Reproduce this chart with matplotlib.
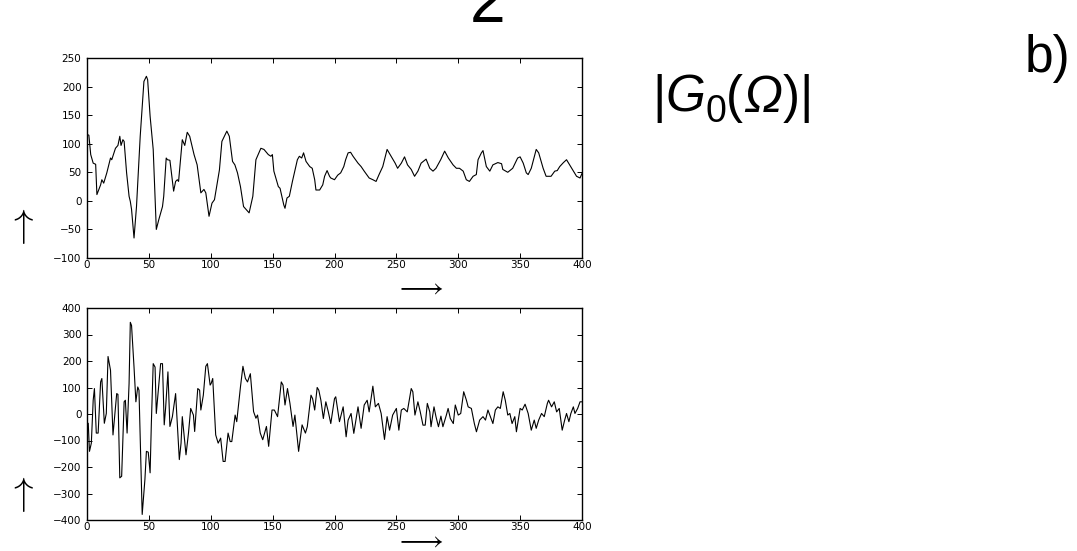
import matplotlib
matplotlib.use("Agg")
import matplotlib.pyplot as plt
import numpy as np

# ---- data (turning points) ----
top_x = [0, 1.5, 3, 5, 7, 8, 11, 12, 13.5, 16, 19, 20, 23, 25, 26.5, 27.5, 29, 30, 32, 34, 35, 36, 38,
         40, 43, 46, 48, 49, 51, 53.5, 56, 58, 61, 62, 64, 65, 67, 70, 71.6, 73, 74, 77, 79, 81, 83,
         86.5, 89, 92, 94.5, 96, 98.6, 101, 103, 107, 109, 113, 115, 117.6, 119.5, 121.6, 124, 126.5,
         131, 134, 136.5, 140.5, 143, 146.5, 148.6, 149.8, 151, 154.6, 156, 159, 160, 161.6, 163.5,
         166, 170, 171.6, 173.5, 175, 177, 180, 182, 184, 185, 188, 190.5, 192, 194, 196, 197, 200,
         202.6, 205, 207.5, 209, 211, 213, 215, 216, 219, 221.5, 224, 228, 231, 233.6, 236, 239,
         242.5, 245.8, 249, 251, 254, 256.6, 259, 262, 264.7, 267.4, 270, 274, 277, 279.6, 282,
         285.8, 289, 292, 295.8, 298.5, 301, 304, 306.5, 309, 312, 314.6, 316, 318.7, 320, 322.7,
         325.5, 328, 332, 335, 336, 340, 344, 348, 350, 352.5, 355, 356.5, 359, 363, 365, 368.6,
         371, 375, 378, 380, 382, 385, 387.5, 390, 393, 395.6, 398.4, 400]
top_y = [116, 115, 81, 66, 64, 11, 28, 37, 31, 49, 75, 72, 92, 97, 113, 97, 107, 104, 49, 8, -1, -15, -65,
         -10, 113, 209, 218, 212, 148, 90, -50, -33, -10, 8, 75, 72, 71, 17, 34, 37, 34, 107, 97, 120,
         113, 81, 63, 14, 20, 14, -27, -4, 2, 54, 104, 122, 113, 69, 63, 49, 25, -10, -21, 8, 72, 92,
         90, 81, 78, 81, 52, 25, 22, -7, -13, 5, 8, 34, 72, 78, 75, 84, 69, 60, 57, 37, 19, 19, 28, 43,
         53, 43, 40, 37, 45, 49, 60, 72, 84, 85, 78, 75, 66, 60, 52, 40, 37, 34, 46, 60, 90, 78, 66,
         57, 66, 77, 63, 55, 43, 52, 66, 73, 57, 52, 57, 72, 87, 75, 63, 57, 57, 52, 37, 34, 43, 46,
         72, 84, 88, 60, 52, 63, 67, 65, 55, 50, 57, 75, 77, 66, 49, 46, 57, 90, 84, 57, 43, 43, 52,
         53, 60, 67, 72, 63, 52, 43, 40, 48]

bot_x = [0, 1, 2, 3.5, 5, 6, 7.5, 9, 11, 12, 14, 15.6, 17, 19, 21, 24, 25, 26.5, 28, 30, 31, 32.4, 34,
         35, 36, 38, 39.5, 41, 42, 44.6, 46.8, 48, 49.5, 51, 52, 53.5, 55, 56, 59.5, 61, 62.4, 63.5,
         65.4, 67, 69, 71.6, 74.6, 76, 77, 80, 82, 83.8, 86, 87, 89.5, 91, 92, 94, 96, 97.3, 99.5,
         100.3, 101.6, 104, 106, 108, 110, 111.6, 114, 115.7, 117, 119.7, 121, 124, 126, 128, 129.7,
         132, 134.6, 136.5, 137.8, 140, 142, 145, 146.8, 149.5, 151.4, 154, 157, 158.4, 160, 162, 164,
         166.5, 168, 171, 173.8, 176.5, 178, 181, 182.3, 184, 186, 187.3, 189, 191, 193, 195, 197,
         200, 201, 204, 207, 209.4, 211, 213.4, 215.6, 219, 221.5, 224, 226.4, 228, 231, 233,
         235.5, 237.7, 240.4, 242.5, 244.5, 247, 250, 252, 254, 256, 258.8, 262, 263.3, 265, 267.4,
         269.3, 271.5, 273.3, 275, 277, 278, 280.4, 282, 284, 286, 287.6, 290.4, 291.8, 293.6, 296,
         297.6, 300, 302, 304.4, 306.6, 308, 310.6, 313, 314.7, 317.3, 320, 322, 324, 326, 328, 330,
         332, 334, 336.3, 338, 340, 341.7, 343.5, 345.7, 347, 350, 351.7, 354, 356.5, 359, 361.4,
         363, 365, 367.3, 369.5, 372, 373, 375.4, 377.6, 379.5, 381.6, 384, 386, 387.5, 389.4, 391,
         393, 394.3, 396.5, 398.4, 400]
bot_y = [-35, -35, -141, -110, 52, 96, -72, -72, 121, 134, -35, 2, 217, 165, -79, 77, 74, -241, -235,
         46, 52, -72, 115, 346, 334, 177, 46, 102, 90, -379, -247, -141, -144, -222, -35, 190, 177,
         2, 190, 190, -41, 21, 159, -47, -10, 77, -172, -110, -10, -154, -72, 21, -4, -66, 96, 90,
         15, 71, 180, 190, 109, 115, 134, -79, -110, -91, -179, -179, -72, -104, -104, -4, -29, 102,
         180, 134, 121, 152, 9, -16, -4, -72, -97, -47, -122, 15, 15, -10, 121, 109, 34, 96, 40, -47,
         -4, -141, -41, -72, -48, 71, 58, 15, 100, 90, 52, -17, 46, 8, -36, 58, 65, -29, 27, -86,
         -23, 2, -73, 27, -54, 34, 52, 8, 105, 27, 40, 2, -96, -10, -61, -4, 21, -61, 15, 21, 8, 96,
         84, -4, 46, 8, -42, -42, 40, 8, -48, 27, -10, -48, -8, -48, -4, 21, -17, -36, 34, -4, 2, 84,
         52, 27, 21, -36, -67, -23, -10, -23, 15, -10, -36, 15, 27, 21, 84, 52, -4, 2, -36, -10, -67,
         21, 15, 37, 2, -61, -23, -54, -23, 2, -10, 40, 52, 27, 46, 8, 21, -61, -23, 2, -29, 2, 27,
         2, 21, 46, 46]

xticks = [0, 50, 100, 150, 200, 250, 300, 350, 400]
top_yticks = [-100, -50, 0, 50, 100, 150, 200, 250]
bot_yticks = [-400, -300, -200, -100, 0, 100, 200, 300, 400]

W, H = 1077, 551
fig = plt.figure(figsize=(W / 100, H / 100), dpi=100)
fig.patch.set_facecolor("white")

def px_axes(l, t, r, b):
    return fig.add_axes([l / W, 1 - b / H, (r - l) / W, (b - t) / H])

ax1 = px_axes(87, 58, 582, 258)
ax2 = px_axes(87, 308, 582, 520)

for ax, xs, ys, yt in [(ax1, top_x, top_y, top_yticks), (ax2, bot_x, bot_y, bot_yticks)]:
    ax.plot(xs, ys, color="black", lw=0.8)
    ax.set_xlim(0, 400)
    ax.set_ylim(yt[0], yt[-1])
    ax.set_xticks(xticks)
    ax.set_yticks(yt)
    ax.tick_params(direction="in", length=3.5, width=0.7, top=True, right=True,
                   labelsize=7.5, colors="black")
    ax.tick_params(axis="x", pad=1.5)
    ax.tick_params(axis="y", pad=4)
    for lab in ax.get_xticklabels() + ax.get_yticklabels():
        lab.set_family("DejaVu Sans")
    for s in ax.spines.values():
        s.set_linewidth(1.0)

# |G_0(Omega)| assembled piece by piece so that G and Omega are oblique
renderer = fig.canvas.get_renderer()
label_pieces = [("|", "normal", 37, 0), ("G", "italic", 37, 0), ("0", "normal", 27, -10),
                ("(", "normal", 37, 0), ("\u03a9", "italic", 37, 0), (")", "normal", 37, 0),
                ("|", "normal", 37, 0)]
x_px, base_px = 652.0, 112.0
for s, style, size, dy in label_pieces:
    t = fig.text(x_px / W, 1 - (base_px - dy) / H, s, fontsize=size, style=style,
                 family="Liberation Sans", ha="left", va="baseline")
    bb = t.get_window_extent(renderer=renderer)
    x_px += bb.width

fig.text(1025 / W, 1 - 72 / H, "b)", fontsize=37, family="Liberation Sans",
         ha="left", va="baseline")
fig.text(488 / W, 1 - 22 / H, "2", fontsize=46, family="Liberation Sans",
         ha="center", va="baseline")

for y in (227, 494):
    fig.text(21 / W, 1 - y / H, r"$\uparrow$", fontsize=28, math_fontfamily="cm",
             ha="center", va="center")
for y in (287, 540):
    fig.text(420 / W, 1 - y / H, r"$\longrightarrow$", fontsize=20, math_fontfamily="cm",
             ha="center", va="center")

fig.savefig("out.png", dpi=100, facecolor="white")
